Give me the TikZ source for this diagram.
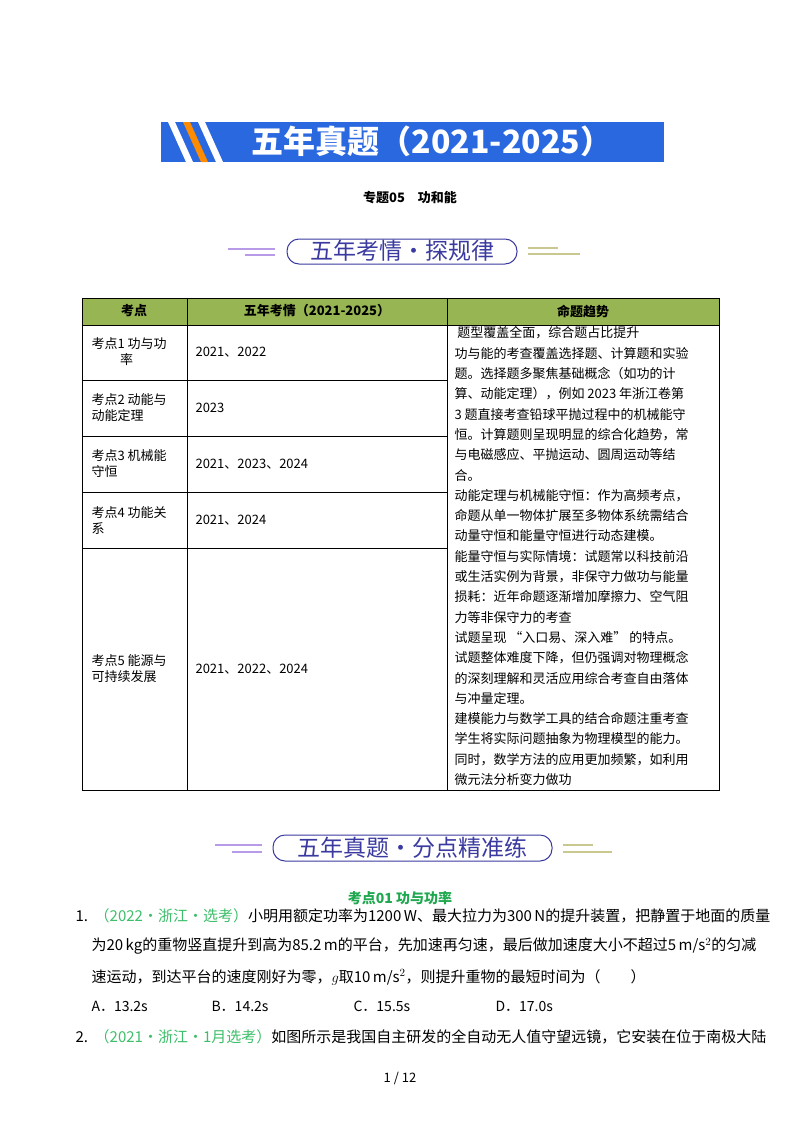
\documentclass[tikz,border=0pt]{standalone}
\usepackage{fontspec}
\setmainfont{Noto Sans CJK SC}
\definecolor{bannerblue}{HTML}{2A68E0}
\definecolor{hdrgreen}{HTML}{97B552}
\definecolor{ribpurple}{HTML}{3A3AA0}
\definecolor{lilac}{HTML}{B89BE8}
\definecolor{olivel}{HTML}{C8C890}
\definecolor{kgreen}{HTML}{1FA84F}
\definecolor{lgreen}{HTML}{3DBE6A}
\begin{document}
\begin{tikzpicture}[x=1pt,y=-1pt,
  cell/.style={font=\fontsize{13}{16}\selectfont,anchor=west,align=left},
  rtxt/.style={font=\fontsize{13}{16}\selectfont,anchor=west},
  body/.style={font=\fontsize{15}{18}\selectfont,anchor=west},
  ribtxt/.style={font=\fontsize{23}{26}\selectfont,text=ribpurple}]
\useasboundingbox (0,0) rectangle (800,1132);
\fill[white] (0,0) rectangle (800,1132);
% banner
\fill[bannerblue] (161,122) rectangle (664,162);
\fill[white] (168,122) -- (175,122) -- (193,162) -- (186,162) -- cycle;
\fill[orange!90!yellow] (183,122) -- (190,122) -- (208,162) -- (201,162) -- cycle;
\fill[white] (198,122) -- (205,122) -- (223,162) -- (216,162) -- cycle;
\node[font=\fontsize{32}{34}\selectfont\bfseries,text=white] (title) at (432,141) {五年真题（2021-2025）};
\node[font=\fontsize{13}{15}\selectfont\bfseries] (sub) at (410,198) {专题05\quad 功和能};
% ribbon 1
\draw[ribpurple,line width=1pt,rounded corners=12pt] (287,239) rectangle (517,264);
\node[ribtxt] (rib1) at (402,251) {五年考情・探规律};
\draw[lilac,line width=2.5pt] (228,249) -- (275,249) (245,255) -- (275,255);
\draw[olivel,line width=2.5pt] (528,248) -- (558,248) (528,254) -- (580,254);
% table
\fill[hdrgreen] (82,298) rectangle (719,325);
\draw[line width=0.6pt] (82,298) rectangle (719,790);
\draw (82,325) -- (719,325);
\foreach \y in {380,436,492,548} \draw (82,\y) -- (447,\y);
\draw (187,298) -- (187,790) (447,298) -- (447,790);
\node[font=\fontsize{13}{15}\selectfont\bfseries] (h1) at (134,311) {考点};
\node[font=\fontsize{13}{15}\selectfont\bfseries] (h2) at (317,311) {五年考情（2021-2025）};
\node[font=\fontsize{13}{15}\selectfont\bfseries] (h3) at (583,311) {命题趋势};
\node[cell] (a1) at (88,352) {考点1 功与功\\\hspace*{2.2em}率};
\node[cell] (a2) at (88,408) {考点2 动能与\\动能定理};
\node[cell] (a3) at (88,464) {考点3 机械能\\守恒};
\node[cell] (a4) at (88,520) {考点4 功能关\\系};
\node[cell] (a5) at (88,669) {考点5 能源与\\可持续发展};
\node[rtxt] (b1) at (192,352) {2021、2022};
\node[rtxt] (b2) at (192,408) {2023};
\node[rtxt] (b3) at (192,464) {2021、2023、2024};
\node[rtxt] (b4) at (192,520) {2021、2024};
\node[rtxt] (b5) at (192,669) {2021、2022、2024};
\foreach \t [count=\i from 0] in {
 {\ 题型覆盖全面，综合题占比提升},
 {功与能的考查覆盖选择题、计算题和实验},
 {题。选择题多聚焦基础概念（如功的计},
 {算、动能定理），例如 2023 年浙江卷第},
 {3 题直接考查铅球平抛过程中的机械能守},
 {恒。计算题则呈现明显的综合化趋势，常},
 {与电磁感应、平抛运动、圆周运动等结},
 {合。},
 {动能定理与机械能守恒：作为高频考点，},
 {命题从单一物体扩展至多物体系统需结合},
 {动量守恒和能量守恒进行动态建模。},
 {能量守恒与实际情境：试题常以科技前沿},
 {或生活实例为背景，非保守力做功与能量},
 {损耗：近年命题逐渐增加摩擦力、空气阻},
 {力等非保守力的考查},
 {试题呈现 “入口易、深入难” 的特点。},
 {试题整体难度下降，但仍强调对物理概念},
 {的深刻理解和灵活应用综合考查自由落体},
 {与冲量定理。},
 {建模能力与数学工具的结合命题注重考查},
 {学生将实际问题抽象为物理模型的能力。},
 {同时，数学方法的应用更加频繁，如利用},
 {微元法分析变力做功}}
 \node[rtxt] (r\i) at (451,{333+20.3*\i}) {\t};
% ribbon 2
\draw[ribpurple,line width=1pt,rounded corners=12pt] (273,835) rectangle (552,861);
\node[ribtxt] (rib2) at (412,848) {五年真题・分点精准练};
\draw[lilac,line width=2.5pt] (215,845) -- (262,845) (232,852) -- (262,852);
\draw[olivel,line width=2.5pt] (563,845) -- (593,845) (563,852) -- (612,852);
% questions
\node[font=\fontsize{14}{16}\selectfont\bfseries,text=kgreen] (kd) at (400,898) {考点01 功与功率};
\node[body] (q1) at (72,916) {1.\ \ {\color{lgreen}（2022・浙江・选考）}小明用额定功率为1200\,W、最大拉力为300\,N的提升装置，把静置于地面的质量};
\node[body] (q1b) at (88,946) {为20\,kg的重物竖直提升到高为85.2\,m的平台，先加速再匀速，最后做加速度大小不超过5\,m/s$^2$的匀减};
\node[body] (q1c) at (88,977) {速运动，到达平台的速度刚好为零，$g$取10\,m/s$^2$，则提升重物的最短时间为（\qquad ）};
\node[font=\fontsize{14}{16}\selectfont,anchor=west] (oA) at (88,1006) {A．13.2s};
\node[font=\fontsize{14}{16}\selectfont,anchor=west] (oB) at (208,1006) {B．14.2s};
\node[font=\fontsize{14}{16}\selectfont,anchor=west] (oC) at (350,1006) {C．15.5s};
\node[font=\fontsize{14}{16}\selectfont,anchor=west] (oD) at (492,1006) {D．17.0s};
\node[body] (q2) at (72,1037) {2.\ \ {\color{lgreen}（2021・浙江・1月选考）}如图所示是我国自主研发的全自动无人值守望远镜，它安装在位于南极大陆};
\node[font=\fontsize{13}{15}\selectfont] (pg) at (400,1078) {1 / 12};
\end{tikzpicture}
\end{document}
